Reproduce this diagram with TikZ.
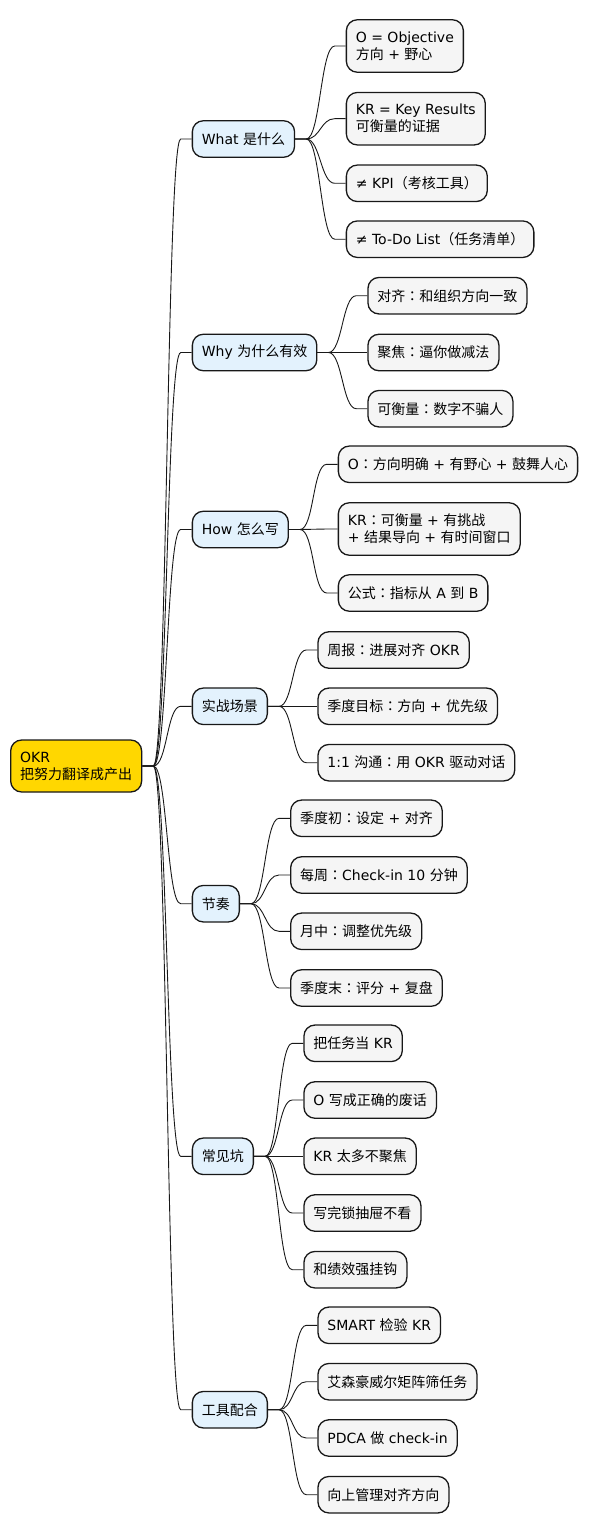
\documentclass[tikz,border=0pt]{standalone}
\usepackage{fontspec}
\setmainfont{DejaVu Sans}
\newfontfamily\cjkfont{Noto Sans CJK SC}
\newfontfamily\cjkpfont{Noto Sans CJK TC}
\XeTeXinterchartokenstate=1
\newXeTeXintercharclass\CJKclass
\newXeTeXintercharclass\PUNCclass
\count255="3000
\loop
\XeTeXcharclass\count255=\CJKclass
\ifnum\count255<"303F
\advance\count255 by 1
\repeat
\count255="4E00
\loop
\XeTeXcharclass\count255=\CJKclass
\ifnum\count255<"9FFF
\advance\count255 by 1
\repeat
\count255="FF00
\loop
\XeTeXcharclass\count255=\CJKclass
\ifnum\count255<"FFEF
\advance\count255 by 1
\repeat
\XeTeXcharclass"FF1A=\PUNCclass
\XeTeXinterchartoks 0 \CJKclass = {\begingroup\cjkfont}
\XeTeXinterchartoks 4095 \CJKclass = {\begingroup\cjkfont}
\XeTeXinterchartoks \CJKclass 0 = {\endgroup}
\XeTeXinterchartoks \CJKclass 4095 = {\endgroup}
\XeTeXinterchartoks 0 \PUNCclass = {\begingroup\cjkpfont}
\XeTeXinterchartoks 4095 \PUNCclass = {\begingroup\cjkpfont}
\XeTeXinterchartoks \PUNCclass 0 = {\endgroup}
\XeTeXinterchartoks \PUNCclass 4095 = {\endgroup}
\XeTeXinterchartoks \CJKclass \PUNCclass = {\endgroup\begingroup\cjkpfont}
\XeTeXinterchartoks \PUNCclass \CJKclass = {\endgroup\begingroup\cjkfont}
\usetikzlibrary{calc}
\definecolor{rootc}{HTML}{FFD700}
\definecolor{lonec}{HTML}{E3F2FD}
\definecolor{leafc}{HTML}{F5F5F5}
\definecolor{linec}{HTML}{181818}
\tikzset{
  box/.style={draw=linec, line width=1.3pt, rounded corners=11pt, align=left,
    anchor=west, inner xsep=9.5pt, inner ysep=0pt, minimum height=36.5pt,
    text=black, font=\fontsize{14}{17}\selectfont},
  rootbox/.style={box, fill=rootc, minimum height=52pt},
  lvlone/.style={box, fill=lonec},
  leaf/.style={box, fill=leafc},
  twoline/.style={minimum height=52.5pt},
  edge/.style={draw=linec, line width=0.9pt},
}
\newcommand\conn[2]{\draw[edge] (#1.east) -- ++(11,0) .. controls +(14,0) and +(-14,0) .. ($(#2.west)+(-11,0)$) -- (#2.west);}
\begin{document}
\begin{tikzpicture}[x=1pt,y=-1pt]
\useasboundingbox (0,0) rectangle (590,1533);
\node[rootbox] (root) at (10,766) {OKR\\把努力翻译成产出};
% level one
\node[lvlone] (w) at (191.7,139) {What 是什么};
\node[lvlone] (y) at (191.7,352.5) {Why 为什么有效};
\node[lvlone] (h) at (191.7,529.5) {How 怎么写};
\node[lvlone] (s) at (191.7,706.3) {实战场景};
\node[lvlone] (r) at (191.7,903.7) {节奏};
\node[lvlone] (c) at (191.7,1156.3) {常见坑};
\node[lvlone] (t) at (191.7,1409.7) {工具配合};
% leaves
\node[leaf,twoline] (w1) at (345.7,46) {O = Objective\\方向 + 野心};
\node[leaf,twoline] (w2) at (345.7,118.7) {KR = Key Results\\可衡量的证据};
\node[leaf] (w3) at (345.7,183.3) {≠ KPI（考核工具）};
\node[leaf] (w4) at (345.7,239.2) {≠ To-Do List（任务清单）};
\node[leaf] (y1) at (367.3,295.7) {对齐：和组织方向一致};
\node[leaf] (y2) at (367.3,352.5) {聚焦：逼你做减法};
\node[leaf] (y3) at (367.3,408.7) {可衡量：数字不骗人};
\node[leaf] (h1) at (337.7,464.3) {O：方向明确 + 有野心 + 鼓舞人心};
\node[leaf,twoline] (h2) at (337.7,529) {KR：可衡量 + 有挑战\\+ 结果导向 + 有时间窗口};
\node[leaf] (h3) at (337.7,593) {公式：指标从 A 到 B};
\node[leaf] (s1) at (317.3,650) {周报：进展对齐 OKR};
\node[leaf] (s2) at (317.3,706.3) {季度目标：方向 + 优先级};
\node[leaf] (s3) at (317.3,762.7) {1:1 沟通：用 OKR 驱动对话};
\node[leaf] (r1) at (290,818.3) {季度初：设定 + 对齐};
\node[leaf] (r2) at (290,875) {每周：Check-in 10 分钟};
\node[leaf] (r3) at (290,931.3) {月中：调整优先级};
\node[leaf] (r4) at (290,988) {季度末：评分 + 复盘};
\node[leaf] (c1) at (303.3,1043.3) {把任务当 KR};
\node[leaf] (c2) at (303.3,1100) {O 写成正确的废话};
\node[leaf] (c3) at (303.3,1156.3) {KR 太多不聚焦};
\node[leaf] (c4) at (303.3,1213) {写完锁抽屉不看};
\node[leaf] (c5) at (303.3,1269.7) {和绩效强挂钩};
\node[leaf] (t1) at (317.3,1325.3) {SMART 检验 KR};
\node[leaf] (t2) at (317.3,1381.7) {艾森豪威尔矩阵筛任务};
\node[leaf] (t3) at (317.3,1438) {PDCA 做 check-in};
\node[leaf] (t4) at (317.3,1494.7) {向上管理对齐方向};
% connectors
\foreach \k in {w,y,h,s,r,c,t} {\conn{root}{\k}}
\foreach \k in {w1,w2,w3,w4} {\conn{w}{\k}}
\foreach \k in {y1,y2,y3} {\conn{y}{\k}}
\foreach \k in {h1,h2,h3} {\conn{h}{\k}}
\foreach \k in {s1,s2,s3} {\conn{s}{\k}}
\foreach \k in {r1,r2,r3,r4} {\conn{r}{\k}}
\foreach \k in {c1,c2,c3,c4,c5} {\conn{c}{\k}}
\foreach \k in {t1,t2,t3,t4} {\conn{t}{\k}}
\end{tikzpicture}
\end{document}
